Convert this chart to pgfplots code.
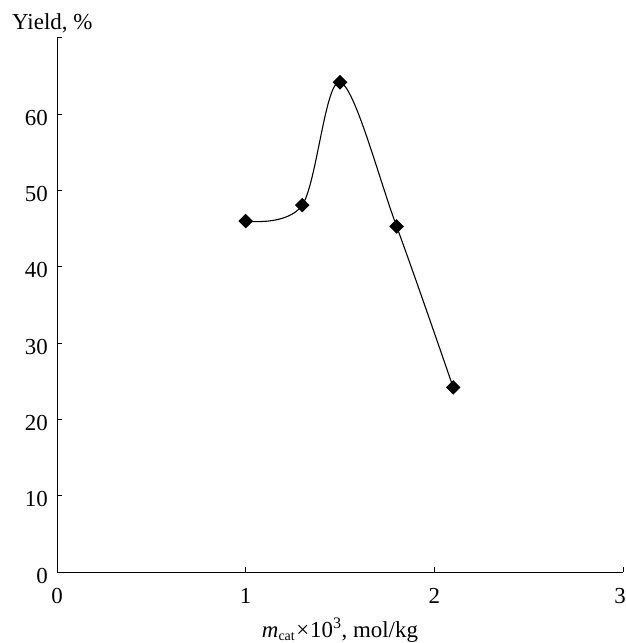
\documentclass[border=0pt]{standalone}
\usepackage{fontspec}
\setmainfont{Liberation Serif}
\usepackage{pgfplots}
\pgfplotsset{compat=1.18}
\begin{document}
\begin{tikzpicture}
\begin{axis}[
  scale only axis,
  width=566bp, height=534bp,
  xmin=0, xmax=3, ymin=0, ymax=70,
  xtick={0,1,2,3},
  xticklabels={0,1,2,{\kern-6bp 3}},
  ytick={0,10,20,30,40,50,60,70},
  yticklabels={0,10,20,30,40,50,60,},
  axis x line*=bottom,
  axis y line*=left,
  axis line style={line width=1bp, -},
  tick style={line width=1bp, black},
  tick align=inside,
  major tick length=5bp,
  /pgf/number format/assume math mode=true,
  ticklabel style={font=\fontsize{23}{27}\selectfont, inner sep=0pt},
  xticklabel style={anchor=base, yshift=-31bp},
  yticklabel style={anchor=base east, xshift=-9bp, yshift=-11bp},
  xlabel={\textit{m}\textsubscript{\fontsize{14}{16}\selectfont cat}\kern1bp\texttimes\kern1bp10\textsuperscript{3}, mol/kg},
  xlabel style={font=\fontsize{23}{27}\selectfont, at={(axis description cs:0.5,0)}, anchor=base, yshift=-65bp, inner sep=0pt},
  clip=false,
]
\addplot[black, line width=1.1bp, smooth, tension=0.55,
  mark=square*, mark size=4.6bp, mark options={rotate=45, solid, fill=black}]
  coordinates {(1,46.0) (1.3,48.1) (1.5,64.2) (1.8,45.3) (2.1,24.2)};
\node[anchor=base west, inner sep=0pt, xshift=-45bp, yshift=8.5bp, font=\fontsize{23}{27}\selectfont] at (rel axis cs:0,1) {Yield, \%};
\end{axis}
\pgfresetboundingbox
\path (current axis.south west) ++(-57bp,-71bp) rectangle ++(626bp,643bp);
\end{tikzpicture}
\end{document}
